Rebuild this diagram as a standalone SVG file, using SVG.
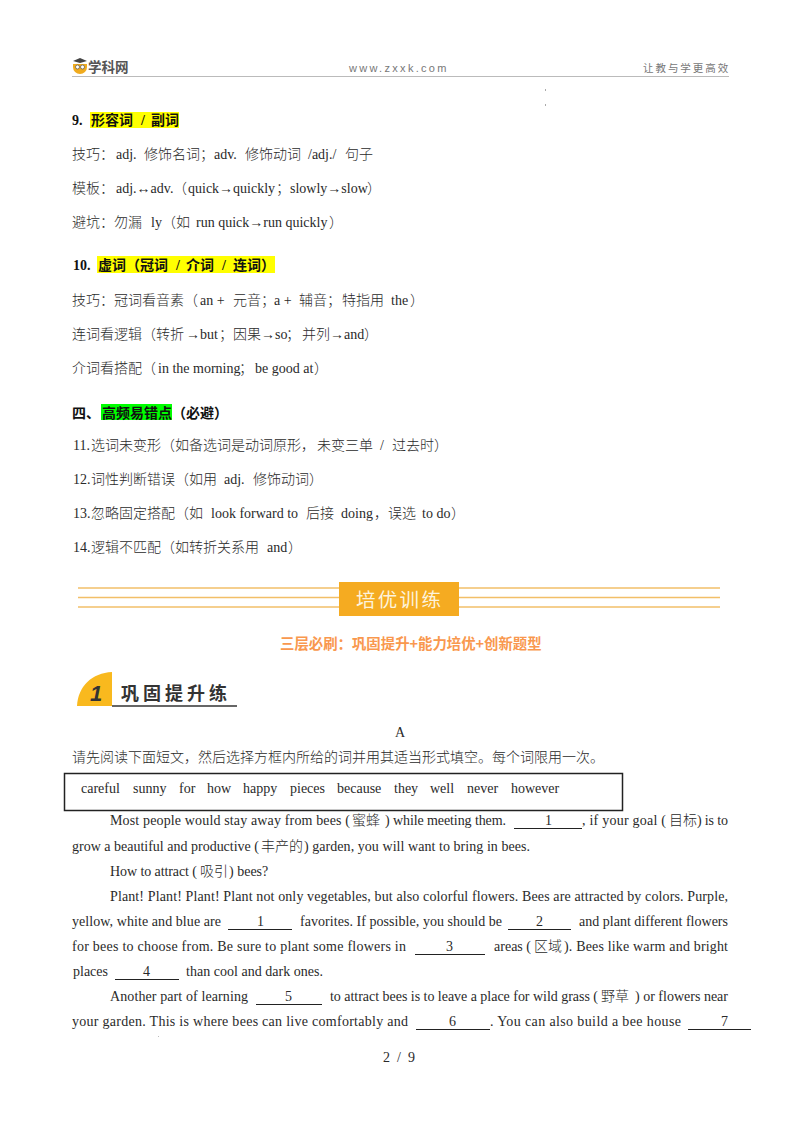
<svg xmlns="http://www.w3.org/2000/svg" width="800" height="1132" viewBox="0 0 800 1132">
<style>
text{font-family:"Liberation Serif","Noto Sans CJK SC",serif;font-size:14px;fill:#2a2a2a;white-space:pre}
.z{font-family:"Noto Sans CJK SC",sans-serif;font-size:14px;font-weight:300}
.zb{font-family:"Noto Sans CJK SC",sans-serif;font-size:14px;font-weight:700;fill:#111}
.b{font-weight:700;fill:#111;font-size:14px}
.u{stroke:#222;stroke-width:1;fill:none}
.rule{stroke:#f2bf68;stroke-width:1.6}
</style>
<rect width="800" height="1132" fill="#fff"/>
<g id="header">
<path d="M73 64h14v3a7 7 0 0 1-14 0z" fill="#f0ab1e"/>
<path d="M73 61l7-3 7 3-7 2z" fill="#444"/>
<circle cx="77.500" cy="67" r="2" fill="#fff" stroke="#555" stroke-width=".7"/>
<circle cx="82.500" cy="67" r="2" fill="#fff" stroke="#555" stroke-width=".7"/>
<text x="88" y="71.500" style="font-family:'Noto Sans CJK SC',sans-serif;font-size:13.500px;font-weight:700;fill:#555">学科网</text>
<text x="349" y="72" style="font-family:'Liberation Sans',sans-serif;font-size:11px;letter-spacing:2.300px;fill:#777">www.zxxk.com</text>
<text x="643" y="72" style="font-family:'Noto Sans CJK SC',sans-serif;font-size:10.500px;letter-spacing:1.950px;fill:#777">让教与学更高效</text>
<line x1="72" y1="76.500" x2="729" y2="76.500" stroke="#bbb" stroke-width="1"/>
<rect x="545" y="89" width="1" height="2" fill="#aaa"/>
<rect x="545" y="104" width="1" height="2" fill="#aaa"/>
</g>
<g id="highlights">
<rect x="90" y="112" width="89" height="16" fill="#ffff00"/>
<rect x="97" y="256" width="178" height="17" fill="#ffff00"/>
<rect x="101" y="404" width="71" height="16" fill="#00ff00"/>
</g>
<g id="section-9">
<text y="125"><tspan x="72" class="b">9.</tspan><tspan x="91" class="zb">形容词</tspan><tspan x="141" class="b">/</tspan><tspan x="151" class="zb">副词</tspan></text>
<text y="159"><tspan x="72" class="z">技巧：</tspan><tspan x="116">adj.</tspan><tspan x="144" class="z">修饰名词；</tspan><tspan x="214">adv.</tspan><tspan x="245" class="z">修饰动词</tspan><tspan x="308">/adj./</tspan><tspan x="345" class="z">句子</tspan></text>
<text y="193"><tspan x="72" class="z">模板：</tspan><tspan x="116">adj.↔adv.</tspan><tspan x="173" class="z">（</tspan><tspan x="188">quick→quickly</tspan><tspan x="276" class="z">；</tspan><tspan x="290">slowly→slow</tspan><tspan x="367" class="z">）</tspan></text>
<text y="227"><tspan x="72" class="z">避坑：勿漏</tspan><tspan x="151">ly</tspan><tspan x="162" class="z">（如</tspan><tspan x="196">run quick→run quickly</tspan><tspan x="329" class="z">）</tspan></text>
</g>
<g id="section-10">
<text y="270"><tspan x="73" class="b">10.</tspan><tspan x="98" class="zb">虚词（冠词</tspan><tspan x="176" class="b">/</tspan><tspan x="186" class="zb">介词</tspan><tspan x="222" class="b">/</tspan><tspan x="233" class="zb">连词）</tspan></text>
<text y="305"><tspan x="72" class="z">技巧：冠词看音素（</tspan><tspan x="200">an +</tspan><tspan x="233" class="z">元音；</tspan><tspan x="274">a +</tspan><tspan x="299" class="z">辅音；</tspan><tspan x="342" class="z">特指用</tspan><tspan x="391">the</tspan><tspan x="410" class="z">）</tspan></text>
<text y="339"><tspan x="72" class="z">连词看逻辑（转折</tspan><tspan x="186">→but</tspan><tspan x="219" class="z">；</tspan><tspan x="233" class="z">因果</tspan><tspan x="261">→so</tspan><tspan x="286" class="z">；</tspan><tspan x="302" class="z">并列</tspan><tspan x="330">→and</tspan><tspan x="364" class="z">）</tspan></text>
<text y="373"><tspan x="72" class="z">介词看搭配（</tspan><tspan x="158">in the morning</tspan><tspan x="239" class="z">；</tspan><tspan x="255">be good at</tspan><tspan x="314" class="z">）</tspan></text>
</g>
<g id="section-4">
<text y="418"><tspan x="72" class="zb">四、</tspan><tspan x="102" class="zb">高频易错点</tspan><tspan x="172" class="zb">（必避）</tspan></text>
<text y="450"><tspan x="73">11.</tspan><tspan x="91" class="z">选词未变形（如备选词是动词原形，</tspan><tspan x="317" class="z">未变三单</tspan><tspan x="380">/</tspan><tspan x="392" class="z">过去时）</tspan></text>
<text y="484"><tspan x="73">12.</tspan><tspan x="91" class="z">词性判断错误（如用</tspan><tspan x="224">adj.</tspan><tspan x="253" class="z">修饰动词）</tspan></text>
<text y="518"><tspan x="73">13.</tspan><tspan x="91" class="z">忽略固定搭配（如</tspan><tspan x="211">look forward to</tspan><tspan x="306" class="z">后接</tspan><tspan x="341">doing</tspan><tspan x="374" class="z">，</tspan><tspan x="388" class="z">误选</tspan><tspan x="422">to do</tspan><tspan x="451" class="z">）</tspan></text>
<text y="552"><tspan x="73">14.</tspan><tspan x="91" class="z">逻辑不匹配（如转折关系用</tspan><tspan x="267">and</tspan><tspan x="288" class="z">）</tspan></text>
</g>
<g id="banner">
<line class="rule" x1="78" y1="588" x2="720" y2="588"/>
<line class="rule" x1="78" y1="597.500" x2="720" y2="597.500"/>
<line class="rule" x1="78" y1="607" x2="720" y2="607"/>
<rect x="339" y="582" width="120" height="34" fill="#f5ab21"/>
<text x="356" y="606.500" style="font-family:'Noto Sans CJK SC',sans-serif;font-size:19.500px;letter-spacing:2.300px;fill:#fdf3dc;font-weight:400">培优训练</text>
<text x="280" y="649" style="font-family:'Noto Sans CJK SC',sans-serif;font-size:14.400px;font-weight:700;fill:#f9984e">三层必刷：巩固提升+能力培优+创新题型</text>
</g>
<g id="section-title">
<path d="M77 706C78 686 92 673 112 672V706Z" fill="#f9b91e"/>
<line x1="112" y1="706" x2="237" y2="706" stroke="#666" stroke-width="2"/>
<text x="90" y="701" style="font-family:'Liberation Sans',sans-serif;font-size:22px;font-weight:700;font-style:italic;fill:#333">1</text>
<text x="121" y="699.500" style="font-family:'Noto Sans CJK SC',sans-serif;font-size:18px;font-weight:700;letter-spacing:4px;fill:#333">巩固提升练</text>
</g>
<g id="passage">
<text x="395" y="737">A</text>
<text x="72" y="762" class="z">请先阅读下面短文，然后选择方框内所给的词并用其适当形式填空。每个词限用一次。</text>
<rect x="64.500" y="773.500" width="558" height="37" fill="none" stroke="#222" stroke-width="1.500"/>
<text y="793"><tspan x="81">careful</tspan><tspan x="133">sunny</tspan><tspan x="179">for</tspan><tspan x="207">how</tspan><tspan x="243">happy</tspan><tspan x="290">pieces</tspan><tspan x="337">because</tspan><tspan x="394">they</tspan><tspan x="430">well</tspan><tspan x="467">never</tspan><tspan x="511">however</tspan></text>

<text x="110" y="825" textLength="240">Most people would stay away from bees (</text>
<text x="352" y="825" class="z">蜜蜂</text>
<text x="385" y="825" textLength="121">) while meeting them.</text>
<text x="545" y="825">1</text>
<text x="582" y="825" textLength="84">, if your goal (</text>
<text x="669" y="825" class="z">目标</text>
<text x="697" y="825" textLength="31">) is to</text>

<text x="72" y="851" textLength="187">grow a beautiful and productive (</text>
<text x="261" y="851" class="z">丰产的</text>
<text x="304" y="851" textLength="226">) garden, you will want to bring in bees.</text>

<text x="110" y="876" textLength="87">How to attract (</text>
<text x="200" y="876" class="z">吸引</text>
<text x="229" y="876">) bees?</text>

<text x="110" y="901" textLength="618">Plant! Plant! Plant! Plant not only vegetables, but also colorful flowers. Bees are attracted by colors. Purple,</text>

<text x="72" y="926" textLength="149">yellow, white and blue are</text>
<text x="257" y="926">1</text>
<text x="300" y="926" textLength="202">favorites. If possible, you should be</text>
<text x="536" y="926">2</text>
<text x="579" y="926" textLength="149">and plant different flowers</text>

<text x="72" y="951" textLength="334">for bees to choose from. Be sure to plant some flowers in</text>
<text x="446" y="951">3</text>
<text x="494" y="951" textLength="37">areas (</text>
<text x="534" y="951" class="z">区域</text>
<text x="564" y="951" textLength="164">). Bees like warm and bright</text>

<text x="73" y="976" textLength="35">places</text>
<text x="143" y="976">4</text>
<text x="186" y="976" textLength="137">than cool and dark ones.</text>

<text x="110" y="1001" textLength="138">Another part of learning</text>
<text x="285" y="1001">5</text>
<text x="330" y="1001" textLength="268">to attract bees is to leave a place for wild grass (</text>
<text x="601" y="1001" class="z">野草</text>
<text x="635" y="1001" textLength="93">) or flowers near</text>

<text x="72" y="1026" textLength="336">your garden. This is where bees can live comfortably and</text>
<text x="449" y="1026">6</text>
<text x="490" y="1026" textLength="191">. You can also build a bee house</text>
<text x="721" y="1026">7</text>
<g>
<line class="u" x1="514" y1="828.500" x2="582" y2="828.500"/>
<line class="u" x1="228" y1="929.500" x2="292" y2="929.500"/>
<line class="u" x1="508" y1="929.500" x2="571" y2="929.500"/>
<line class="u" x1="415" y1="954.500" x2="485" y2="954.500"/>
<line class="u" x1="115" y1="979.500" x2="179" y2="979.500"/>
<line class="u" x1="256" y1="1004.500" x2="322" y2="1004.500"/>
<line class="u" x1="416" y1="1029.500" x2="490" y2="1029.500"/>
<line class="u" x1="688" y1="1029.500" x2="751" y2="1029.500"/>
</g>
<rect x="158" y="1036" width="1" height="1" fill="#bbb"/>
<text x="383" y="1062">2  /  9</text>
</g>
</svg>
